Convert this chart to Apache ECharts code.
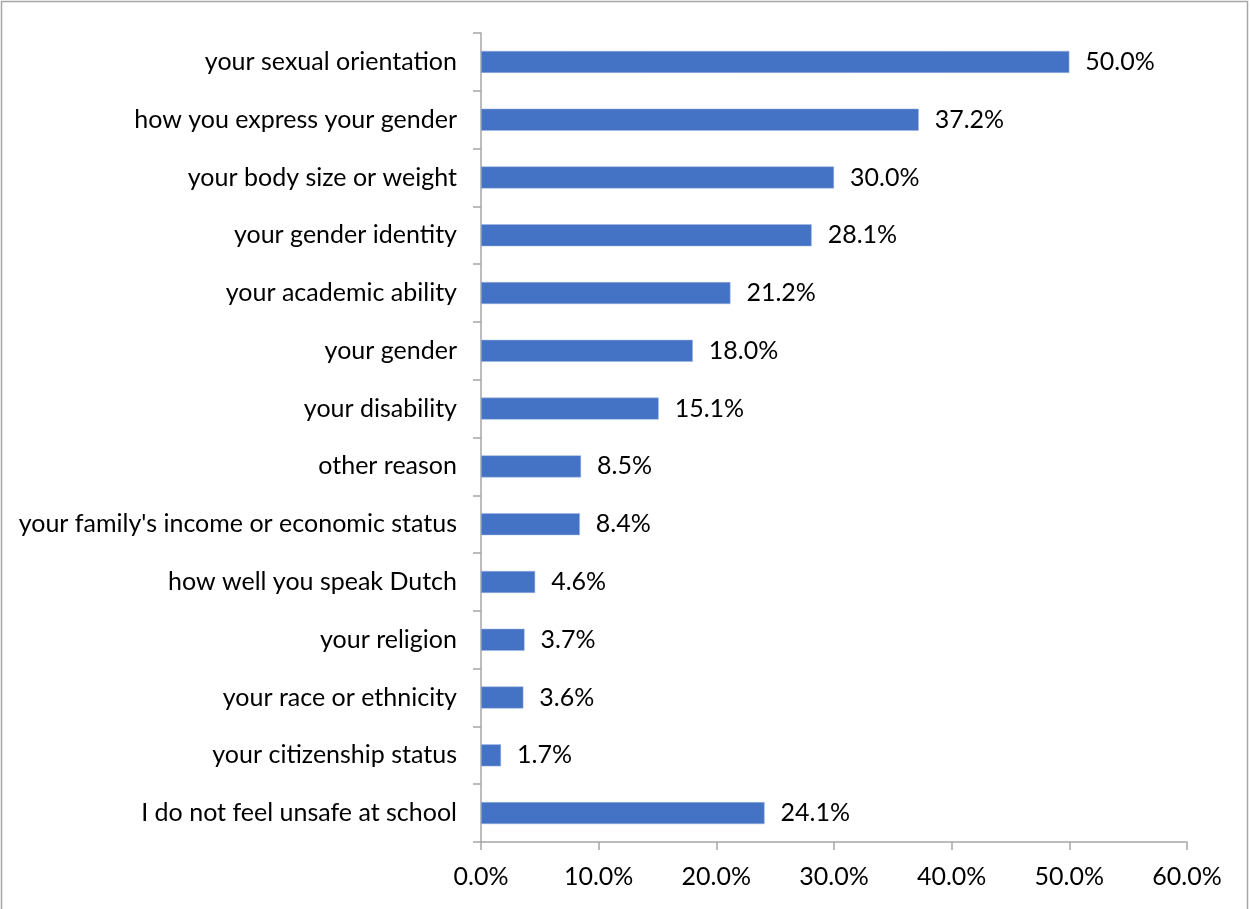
<!DOCTYPE html>
<html>
<head>
<meta charset="utf-8">
<script src="https://cdn.jsdelivr.net/npm/echarts@6/dist/echarts.min.js"></script>
<style>
  html, body { margin: 0; padding: 0; background: #fff; }
  #chart { width: 1250px; height: 909px; }
</style>
</head>
<body>
<div id="chart"></div>
<script>
// Reasons students feel unsafe at school (percent of respondents)
const categories = [
  "your sexual orientation",
  "how you express your gender",
  "your body size or weight",
  "your gender identity",
  "your academic ability",
  "your gender",
  "your disability",
  "other reason",
  "your family's income or economic status",
  "how well you speak Dutch",
  "your religion",
  "your race or ethnicity",
  "your citizenship status",
  "I do not feel unsafe at school"
];
const values = [50.0, 37.2, 30.0, 28.1, 21.2, 18.0, 15.1, 8.5, 8.4, 4.6, 3.7, 3.6, 1.7, 24.1];
const xTicks = [0, 10, 20, 30, 40, 50, 60];

const FONT = "Lato, 'Open Sans', sans-serif";
const FONT_SIZE = 25;
const chart = echarts.init(document.getElementById('chart'), null, { renderer: 'canvas' });

chart.setOption({
  animation: false,
  backgroundColor: '#ffffff',
  graphic: [{
    type: 'rect',
    shape: { x: 1.5, y: 1.5, width: 1246, height: 920 },
    style: { fill: 'none', stroke: '#a6a6a6', lineWidth: 1.5 },
    silent: true, z: -1
  }],
  grid: { left: 481, right: 63, top: 33, bottom: 67, containLabel: false },
  xAxis: {
    type: 'value',
    min: xTicks[0],
    max: xTicks[xTicks.length - 1],
    interval: 10,
    splitLine: { show: false },
    axisLine: { show: true, lineStyle: { color: '#a6a6a6', width: 1.5 } },
    axisTick: { show: true, length: 8, lineStyle: { color: '#a6a6a6', width: 1.5 } },
    axisLabel: {
      margin: 22,
      color: '#000',
      fontFamily: FONT,
      fontSize: FONT_SIZE,
      formatter: v => v.toFixed(1) + '%'
    }
  },
  yAxis: {
    type: 'category',
    inverse: true,
    data: categories,
    axisLine: { show: true, lineStyle: { color: '#a6a6a6', width: 1.5 } },
    axisTick: { show: true, length: 8, lineStyle: { color: '#a6a6a6', width: 1.5 } },
    axisLabel: {
      margin: 24,
      color: '#000',
      fontFamily: FONT,
      fontSize: FONT_SIZE
    }
  },
  series: [{
    type: 'bar',
    data: values,
    barWidth: 22,
    itemStyle: { color: '#4472C4', borderColor: '#9fb6e0', borderWidth: 0.5 },
    label: {
      show: true,
      position: 'right',
      distance: 16,
      color: '#000',
      fontFamily: FONT,
      fontSize: FONT_SIZE,
      formatter: p => p.value.toFixed(1) + '%'
    }
  }]
});
</script>
</body>
</html>
